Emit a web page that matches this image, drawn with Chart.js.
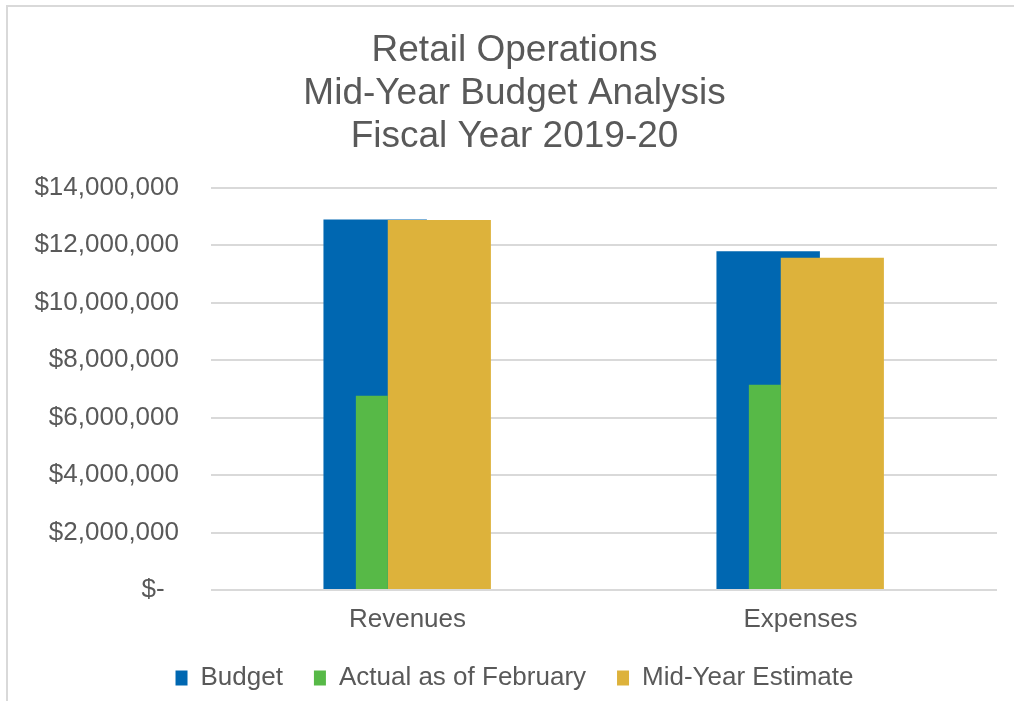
<!DOCTYPE html>
<html>
<head>
<meta charset="utf-8">
<script src="https://cdn.jsdelivr.net/npm/chart.js@4.4.0/dist/chart.umd.min.js"></script>
<style>
  html, body { margin: 0; padding: 0; background: #fff; overflow: hidden; }
  #frame {
    position: absolute; left: 6px; top: 5px;
    border-left: 2px solid #d9d9d9; border-top: 2px solid #d9d9d9;
  }
  canvas { display: block; }
</style>
</head>
<body>
<div id="frame"><canvas id="budgetChart" width="1006" height="694"></canvas></div>
<script>
// Danh mục và số liệu
const categories = ['Revenues', 'Expenses'];
const budget = [12900000, 11790000];
const actualFeb = [6760000, 7150000];
const midYearEstimate = [12880000, 11570000];
const titleLines = ['Retail Operations', 'Mid-Year Budget Analysis', 'Fiscal Year 2019-20'];
const yTicks = [0, 2000000, 4000000, 6000000, 8000000, 10000000, 12000000, 14000000];

const textColor = '#595959';
const fontFamily = '"Liberation Sans", Arial, sans-serif';

const ctx = document.getElementById('budgetChart').getContext('2d');
const budgetChart = new Chart(ctx, {
    type: 'bar',
    data: {
        labels: categories,
        datasets: [
            {
                label: 'Budget',
                data: budget,
                backgroundColor: '#0067B1',
                stack: 'a',
                order: 3,
                categoryPercentage: 0.329,
                barPercentage: 1.60
            },
            {
                label: 'Actual as of February',
                data: actualFeb,
                backgroundColor: '#57B947',
                stack: 'a',
                order: 1,
                categoryPercentage: 0.363,
                barPercentage: 0.448
            },
            {
                label: 'Mid-Year Estimate',
                data: midYearEstimate,
                backgroundColor: '#DDB23B',
                stack: 'b',
                order: 2,
                categoryPercentage: 0.324,
                barPercentage: 1.62
            }
        ]
    },
    options: {
        responsive: false,
        animation: false,
        layout: { padding: { left: 24, right: 17, top: 0, bottom: 0 } },
        plugins: {
            title: {
                display: true,
                text: titleLines,
                color: textColor,
                font: { family: fontFamily, size: 37, weight: 'normal', lineHeight: 1.17 },
                padding: { top: 22, bottom: 29 }
            },
            legend: {
                position: 'bottom',
                labels: {
                    color: textColor,
                    font: { family: fontFamily, size: 26 },
                    boxWidth: 12,
                    boxHeight: 15,
                    padding: 31,
                    sort: (a, b) => a.datasetIndex - b.datasetIndex
                }
            },
            tooltip: { enabled: false }
        },
        scales: {
            x: {
                grid: { display: false },
                border: { display: false },
                ticks: {
                    color: textColor,
                    font: { family: fontFamily, size: 26, lineHeight: 1 },
                    padding: 9
                },
                afterFit: (scale) => { scale.height = 44; }
            },
            y: {
                stacked: false,
                min: 0,
                max: 14000000,
                afterBuildTicks: (scale) => { scale.ticks = yTicks.map(v => ({ value: v })); },
                afterFit: (scale) => { scale.width = 179; },
                grid: { color: '#d9d9d9', lineWidth: 2, drawTicks: false },
                border: { display: false },
                ticks: {
                    color: textColor,
                    font: { family: fontFamily, size: 26 },
                    padding: 32,
                    callback: function(value) {
                        return value === 0 ? '$-  ' : '$' + value.toLocaleString('en-US');
                    }
                }
            }
        }
    }
});
</script>
</body>
</html>
